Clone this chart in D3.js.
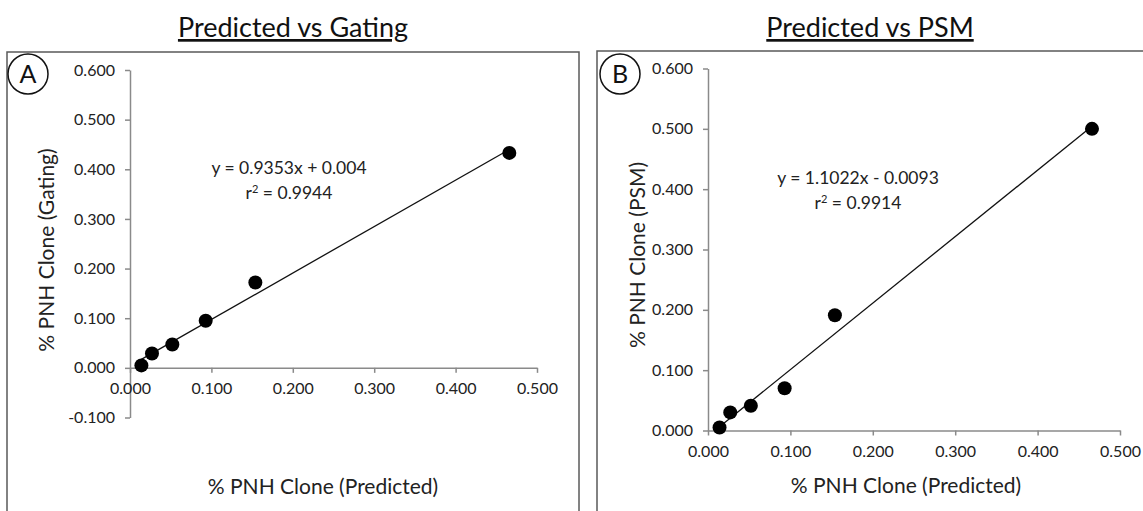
<!DOCTYPE html>
<html>
<head>
<meta charset="utf-8">
<script src="https://cdn.jsdelivr.net/npm/d3@7"></script>
<style>
  body { margin: 0; background: #fff; }
  svg { display: block; font-family: Lato, "Open Sans", sans-serif; }
</style>
</head>
<body>
<svg id="chart" width="1143" height="511"></svg>
<script>
// data
var predicted = [0.014, 0.027, 0.052, 0.093, 0.154, 0.466];
var gating    = [0.005, 0.029, 0.047, 0.095, 0.172, 0.433];
var psm       = [0.005, 0.030, 0.041, 0.070, 0.191, 0.500];

var panelTitles  = ["Predicted vs Gating", "Predicted vs PSM"];
var panelLetters = ["A", "B"];
var yTitles      = ["% PNH Clone (Gating)", "% PNH Clone (PSM)"];
var xTitle       = "% PNH Clone (Predicted)";
var slopes       = [0.9353, 1.1022];
var intercepts   = [0.004, -0.0093];
var eqLabels     = ["y = 0.9353x + 0.004", "y = 1.1022x - 0.0093"];
var r2Labels     = ["0.9944", "0.9914"];
var xTicks  = [0, 0.1, 0.2, 0.3, 0.4, 0.5];
var yTicksA = [-0.1, 0, 0.1, 0.2, 0.3, 0.4, 0.5, 0.6];
var yTicksB = [0, 0.1, 0.2, 0.3, 0.4, 0.5, 0.6];

var svg = d3.select("#chart");
var fmt = function(v){ return d3.format(".3f")(v).replace("\u2212", "-"); };
var axisGrey = "#8a8a8a";
var textCol = "#222";

function draw_panel(p){
    var g = svg.append("g");

    // frame
    g.append("rect")
    .attr("x", p.box[0]).attr("y", p.box[1])
    .attr("width", p.box[2]).attr("height", p.box[3])
    .attr("fill", "none").attr("stroke", "#5a5a5a").attr("stroke-width", 1.5);

    // title, underlined
    g.append("text")
    .attr("x", p.titleX).attr("y", 37)
    .attr("text-anchor", "middle")
    .style("font-size", "27px")
    .style("text-decoration", "underline")
    .attr("fill", "#111")
    .text(p.title);

    // panel letter in circle
    g.append("circle")
    .attr("cx", p.letterPos[0]).attr("cy", p.letterPos[1]).attr("r", 20)
    .attr("fill", "none").attr("stroke", "#111").attr("stroke-width", 1.5);
    g.append("text")
    .attr("x", p.letterPos[0]).attr("y", p.letterPos[1] + 9)
    .attr("text-anchor", "middle")
    .style("font-size", "25px")
    .attr("fill", "#111")
    .text(p.letter);

    var x = d3.scaleLinear().domain([0, 0.5]).range(p.xRange);
    var y = d3.scaleLinear().domain(p.yDomain).range(p.yRange);

    var yAxis = g.append("g")
    .attr("transform", "translate(" + x(0) + ",0)")
    .call(d3.axisLeft(y).tickValues(p.yTicks).tickFormat(fmt)
        .tickSize(5).tickSizeOuter(0).tickPadding(10));

    var xAxis = g.append("g")
    .attr("transform", "translate(0," + y(0) + ")")
    .call(d3.axisBottom(x).tickValues(xTicks).tickFormat(fmt)
        .tickSize(5).tickSizeOuter(0).tickPadding(10));

    [yAxis, xAxis].forEach(function(a){
        a.select(".domain").attr("stroke", axisGrey).attr("stroke-width", 1.5);
        a.selectAll(".tick line").attr("stroke", axisGrey).attr("stroke-width", 1.5);
        a.selectAll(".tick text")
        .attr("fill", textCol)
        .style("font-size", "16px")
        .style("font-family", "Lato, sans-serif");
    });

    // trendline over the data range
    var x0 = d3.min(predicted), x1 = d3.max(predicted);
    g.append("line")
    .attr("x1", x(x0)).attr("y1", y(p.slope * x0 + p.intercept))
    .attr("x2", x(x1)).attr("y2", y(p.slope * x1 + p.intercept))
    .attr("stroke", "#111").attr("stroke-width", 1.3);

    g.selectAll("circle.pt")
    .data(predicted.map(function(d, i){ return [d, p.values[i]]; }))
    .enter().append("circle")
    .attr("class", "pt")
    .attr("cx", function(d){ return x(d[0]); })
    .attr("cy", function(d){ return y(d[1]); })
    .attr("r", 7)
    .attr("fill", "#000");

    // equation
    g.append("text")
    .attr("x", p.eqPos[0]).attr("y", p.eqPos[1])
    .attr("text-anchor", "middle")
    .style("font-size", "17.5px")
    .attr("fill", textCol)
    .text(p.eq);
    var r2 = g.append("text")
    .attr("x", p.eqPos[0]).attr("y", p.eqPos[1] + 25)
    .attr("text-anchor", "middle")
    .style("font-size", "17.5px")
    .attr("fill", textCol);
    r2.append("tspan").text("r");
    r2.append("tspan").attr("dy", -6).style("font-size", "11px").text("2");
    r2.append("tspan").attr("dy", 6).text(" = " + p.r2);

    // axis titles
    g.append("text")
    .attr("x", p.xTitlePos[0]).attr("y", p.xTitlePos[1])
    .attr("text-anchor", "middle")
    .style("font-size", "21px")
    .attr("fill", textCol)
    .text(xTitle);
    g.append("text")
    .attr("transform", "translate(" + p.yTitlePos[0] + "," + p.yTitlePos[1] + ") rotate(-90)")
    .attr("text-anchor", "middle")
    .style("font-size", "21px")
    .attr("fill", textCol)
    .text(p.yTitle);
}

draw_panel({
    box: [7, 52, 572, 480],
    title: panelTitles[0], titleX: 293,
    letter: panelLetters[0], letterPos: [28, 74],
    xRange: [130, 537], yDomain: [-0.1, 0.6], yRange: [417.5, 70],
    yTicks: yTicksA, values: gating,
    slope: slopes[0], intercept: intercepts[0],
    eqPos: [289, 174], eq: eqLabels[0], r2: r2Labels[0],
    xTitlePos: [323, 494], yTitlePos: [54, 250],
    yTitle: yTitles[0]
});

draw_panel({
    box: [597, 51, 560, 480],
    title: panelTitles[1], titleX: 870,
    letter: panelLetters[1], letterPos: [620, 74],
    xRange: [708, 1120], yDomain: [0, 0.6], yRange: [430.5, 68.5],
    yTicks: yTicksB, values: psm,
    slope: slopes[1], intercept: intercepts[1],
    eqPos: [858, 184], eq: eqLabels[1], r2: r2Labels[1],
    xTitlePos: [906, 493], yTitlePos: [645, 255],
    yTitle: yTitles[1]
});
</script>
</body>
</html>
